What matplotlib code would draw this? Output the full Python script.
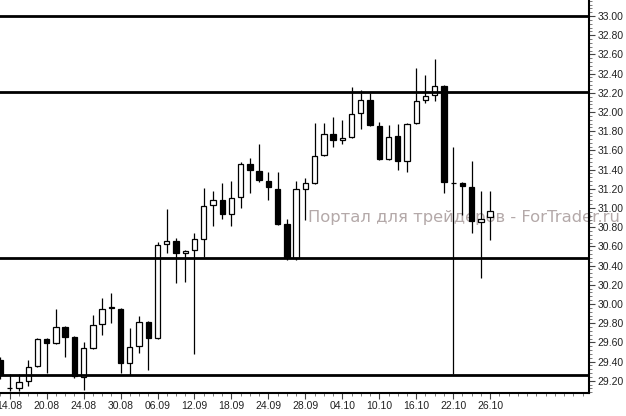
import matplotlib
matplotlib.use('Agg')
import matplotlib.pyplot as plt
from matplotlib.ticker import MultipleLocator, FixedLocator

# daily candles
opens = [29.42, 29.12, 29.12, 29.20, 29.35, 29.64, 29.59, 29.76, 29.66, 29.24,
         29.54, 29.79, 29.96, 29.95, 29.39, 29.56, 29.81, 29.65, 30.62, 30.66,
         30.53, 30.56, 30.68, 31.03, 31.08, 30.94, 31.11, 31.46, 31.39, 31.28,
         31.20, 30.83, 30.48, 31.20, 31.26, 31.55, 31.77, 31.71, 31.74, 31.99,
         32.13, 31.85, 31.51, 31.75, 31.49, 31.89, 32.13, 32.18, 32.27, 31.26,
         31.26, 31.22, 30.85, 30.91]
highs = [29.45, 29.27, 29.27, 29.42, 29.65, 29.65, 29.95, 29.77, 29.67, 29.60,
         29.89, 30.06, 30.11, 29.96, 29.75, 29.87, 29.82, 30.65, 30.99, 30.69,
         30.56, 30.74, 31.21, 31.18, 31.26, 31.28, 31.48, 31.52, 31.67, 31.37,
         31.37, 30.89, 31.28, 31.31, 31.89, 31.89, 31.95, 31.92, 32.26, 32.23,
         32.20, 31.90, 31.86, 31.88, 31.89, 32.46, 32.39, 32.55, 32.28, 31.64,
         31.27, 31.49, 31.18, 31.18]
lows = [29.22, 29.09, 29.09, 29.15, 29.34, 29.28, 29.58, 29.45, 29.23, 29.10,
        29.53, 29.68, 29.80, 29.28, 29.26, 29.49, 29.31, 29.64, 30.53, 30.22,
        30.23, 29.48, 30.49, 30.81, 30.89, 30.81, 31.00, 31.16, 31.27, 31.08,
        30.82, 30.46, 30.46, 30.88, 31.25, 31.54, 31.64, 31.67, 31.73, 31.82,
        31.85, 31.50, 31.50, 31.40, 31.38, 31.88, 32.09, 32.11, 31.16, 29.27,
        30.93, 30.74, 30.27, 30.67]
closes = [29.27, 29.12, 29.19, 29.34, 29.64, 29.59, 29.76, 29.66, 29.25, 29.54,
          29.78, 29.95, 29.96, 29.39, 29.55, 29.81, 29.65, 30.61, 30.66, 30.53,
          30.55, 30.68, 31.02, 31.08, 30.94, 31.10, 31.46, 31.40, 31.29, 31.22,
          30.83, 30.48, 31.20, 31.26, 31.54, 31.77, 31.71, 31.73, 31.98, 32.13,
          31.86, 31.51, 31.74, 31.49, 31.88, 32.12, 32.17, 32.27, 31.27, 31.26,
          31.23, 30.86, 30.89, 30.97]

date_labels = ['14.08', '20.08', '24.08', '30.08', '06.09', '12.09', '18.09',
               '24.09', '28.09', '04.10', '10.10', '16.10', '22.10', '26.10']
label_pos = [1, 5, 9, 13, 17, 21, 25, 29, 33, 37, 41, 45, 49, 53]

levels = [33.00, 32.21, 30.48, 29.26]

fig = plt.figure(figsize=(6.26, 4.16), dpi=100)
ax = fig.add_axes([0.0, 0.0553, 0.9409, 0.9447])

x = list(range(len(opens)))
ax.vlines(x, lows, highs, color='black', linewidth=0.9, zorder=2)
for i in x:
    o, c = opens[i], closes[i]
    bottom = min(o, c)
    h = max(abs(c - o), 0.004)
    face = 'white' if c >= o else 'black'
    ax.bar(i, h, bottom=bottom, width=0.58, facecolor=face,
           edgecolor='black', linewidth=0.9, zorder=3)

for lv in levels:
    ax.axhline(lv, color='black', linewidth=2.0, zorder=4)

# watermark, under the candles
ax.text(0.492, 0.476, 'Портал для трейдеров - ForTrader.ru', transform=fig.transFigure,
        fontsize=11.8, color='#b4a9a9', family='DejaVu Sans', va='center', ha='left',
        zorder=1, clip_on=False)

ax.set_xlim(-0.05, 63.7)
ax.set_ylim(29.073, 33.167)

ax.yaxis.tick_right()
ax.yaxis.set_major_locator(MultipleLocator(0.2))
ax.yaxis.set_minor_locator(MultipleLocator(0.04))
ax.yaxis.set_major_formatter(plt.FuncFormatter(lambda v, p: f'{v:.2f}'))
ax.xaxis.set_major_locator(FixedLocator(label_pos))
ax.xaxis.set_minor_locator(MultipleLocator(1))
ax.set_xticklabels(date_labels)

for lab in ax.get_xticklabels() + ax.get_yticklabels():
    lab.set_family('Liberation Sans')
    lab.set_fontsize(7.5)
    lab.set_color('#222222')

ax.tick_params(axis='both', which='major', length=4, width=0.8, color='#444444', pad=2)
ax.tick_params(axis='both', which='minor', length=2, width=0.6, color='#666666')

ax.spines['top'].set_visible(False)
ax.spines['left'].set_visible(False)
ax.spines['right'].set_linewidth(1.5)
ax.spines['bottom'].set_linewidth(1.5)

fig.savefig('out.png', dpi=100)
